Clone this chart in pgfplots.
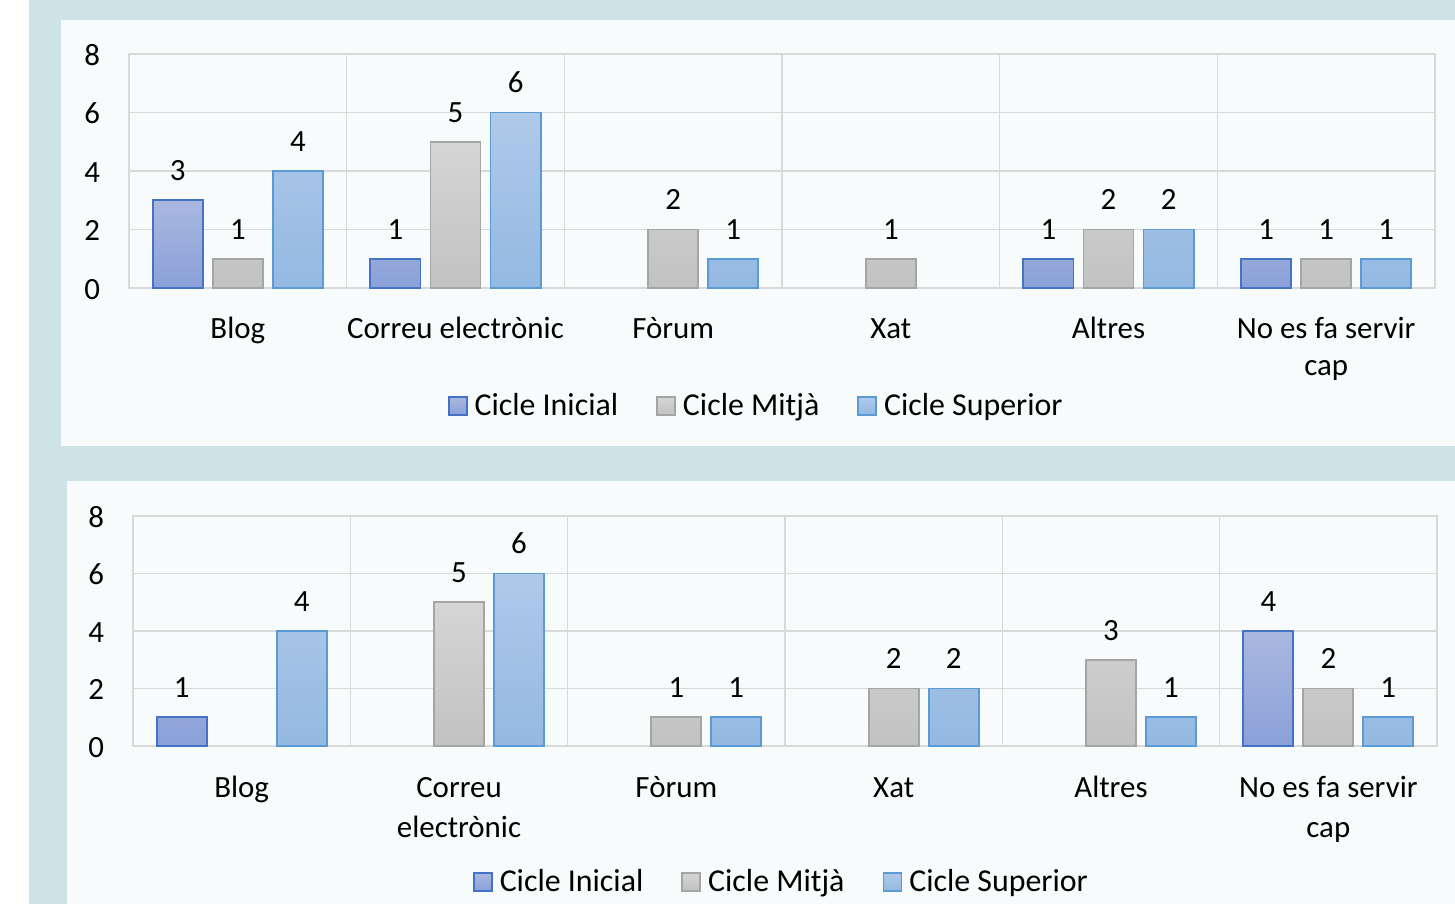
\documentclass[border=0pt]{standalone}
\usepackage{fontspec}
\setmainfont{Carlito}
\usepackage{pgfplots}
\pgfplotsset{compat=1.18}
\definecolor{teal}{HTML}{CDE3E8}
\definecolor{panel}{HTML}{F7FBFC}
\definecolor{gridc}{HTML}{D9D9D9}
\definecolor{iniD}{HTML}{4472C4}
\definecolor{iniT}{HTML}{AAB8E0}
\definecolor{iniB}{HTML}{8AA0D8}
\definecolor{mitD}{HTML}{A5A5A5}
\definecolor{mitT}{HTML}{D5D5D5}
\definecolor{mitB}{HTML}{C2C2C2}
\definecolor{supD}{HTML}{5B9BD5}
\definecolor{supT}{HTML}{AFC9E9}
\definecolor{supB}{HTML}{94B9E2}
\newcommand{\fs}{\fontsize{15.5}{18.5}\selectfont}
\newcommand{\fsb}{\fontsize{15.5}{20}\selectfont}
\pgfplotsset{
 mychart/.style={
  scale only axis,
  ybar,
  ymin=0, ymax=8, ytick={0,2,4,6,8},
  xmin=-0.5, xmax=5.5,
  xtick={0,...,5},
  minor xtick={-0.5,0.5,...,5.5},
  xminorgrids, ymajorgrids,
  major tick length=0pt, minor tick length=0pt,
  grid style={draw=gridc, line width=0.75bp},
  minor grid style={draw=gridc, line width=0.75bp},
  axis line style={draw=gridc, line width=0.75bp},
  tick label style={font=\fs, text=black},
  yticklabel style={xshift=-11bp, yshift=-2bp},
  typeset ticklabels with strut,
  xticklabel style={align=center, anchor=north, yshift=-9bp},
  /pgf/number format/assume math mode=true,
  bar width=0.23,
  nodes near coords,
  every node near coord/.append style={font=\fs, text=black, yshift=6bp},
  legend columns=3,
  legend cell align=left,
  legend style={draw=none, fill=none, font=\fontsize{16}{19}\selectfont, anchor=center,
    /tikz/every odd column/.append style={column sep=1.5bp},
    /tikz/every even column/.append style={column sep=17bp}},
  legend image code/.code={\draw[#1] (0bp,-4.5bp) rectangle (9bp,4.5bp);},
 },
 ini/.style={bar shift=-0.276, draw=iniD, line width=0.9bp, top color=iniT, bottom color=iniB},
 mit/.style={bar shift=0, draw=mitD, line width=0.9bp, top color=mitT, bottom color=mitB},
 sup/.style={bar shift=0.276, draw=supD, line width=0.9bp, top color=supT, bottom color=supB},
}
\begin{document}
\begin{tikzpicture}
\useasboundingbox (0,0) rectangle (727.5bp,-452bp);
\fill[white] (0,0) rectangle (727.5bp,-452bp);
\fill[teal] (14.5bp,0) rectangle (727.5bp,-452bp);
\fill[panel] (30.5bp,-10bp) rectangle (727.5bp,-223bp);
\fill[panel] (33.5bp,-240.5bp) rectangle (727.5bp,-452bp);

\begin{axis}[mychart, at={(64.5bp,-144bp)}, anchor=south west,
  width=653bp, height=117bp,
  xticklabels={Blog, Correu electrònic, Fòrum, Xat, Altres, {No es fa servir\\cap}},
  legend style={at={(0.481,-0.504)}}]
\addplot[ini] coordinates {(0,3) (1,1) (4,1) (5,1)};
\addplot[mit] coordinates {(0,1) (1,5) (2,2) (3,1) (4,2) (5,1)};
\addplot[sup] coordinates {(0,4) (1,6) (2,1) (4,2) (5,1)};
\legend{Cicle Inicial, Cicle Mitjà, Cicle Superior}
\end{axis}

\begin{axis}[mychart, at={(66.5bp,-373bp)}, anchor=south west,
  width=652bp, height=115bp,
  xticklabel style={font=\fsb, yshift=0.5bp},
  xticklabels={Blog, {Correu\\electrònic}, Fòrum, Xat, Altres, {No es fa servir\\cap}},
  legend style={at={(0.498,-0.591)}}]
\addplot[ini] coordinates {(0,1) (5,4)};
\addplot[mit] coordinates {(1,5) (2,1) (3,2) (4,3) (5,2)};
\addplot[sup] coordinates {(0,4) (1,6) (2,1) (3,2) (4,1) (5,1)};
\legend{Cicle Inicial, Cicle Mitjà, Cicle Superior}
\end{axis}
\end{tikzpicture}
\end{document}
